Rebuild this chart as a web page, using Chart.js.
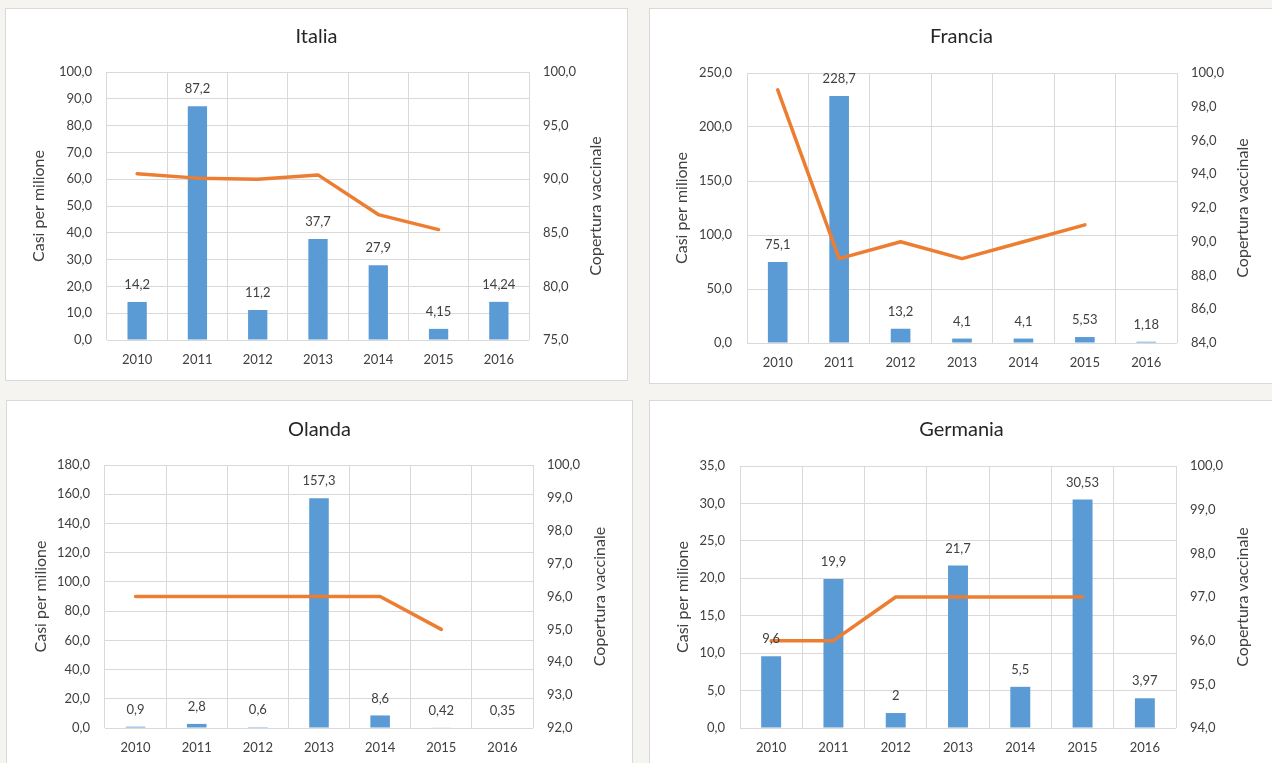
<!DOCTYPE html>
<html lang="it">
<head>
<meta charset="utf-8">
<title>Casi per milione e copertura vaccinale</title>
<script src="https://cdn.jsdelivr.net/npm/chart.js@4"></script>
<style>
  html, body { margin: 0; padding: 0; }
  body { width: 1272px; height: 763px; overflow: hidden; background: #f5f4f0; position: relative; font-family: Lato, sans-serif; }
  .pannello { position: absolute; background: #fff; border: 1px solid #d9d9d9; box-sizing: border-box; overflow: hidden; }
  .pannello canvas { display: block; }
</style>
</head>
<body>
<div class="pannello" id="p-italia"><canvas></canvas></div>
<div class="pannello" id="p-francia"><canvas></canvas></div>
<div class="pannello" id="p-olanda"><canvas></canvas></div>
<div class="pannello" id="p-germania"><canvas></canvas></div>
<script>
const anni = ['2010', '2011', '2012', '2013', '2014', '2015', '2016'];

const casiItalia = [14.2, 87.2, 11.2, 37.7, 27.9, 4.15, 14.24];
const coperturaItalia = [90.5, 90.1, 90.0, 90.4, 86.7, 85.3, null];
const scalaCasiItalia = [0, 100, 10];
const scalaCoperturaItalia = [75, 100, 5];

const casiFrancia = [75.1, 228.7, 13.2, 4.1, 4.1, 5.53, 1.18];
const coperturaFrancia = [99.0, 89.0, 90.0, 89.0, 90.0, 91.0, null];
const scalaCasiFrancia = [0, 250, 50];
const scalaCoperturaFrancia = [84, 100, 2];

const casiOlanda = [0.9, 2.8, 0.6, 157.3, 8.6, 0.42, 0.35];
const coperturaOlanda = [96.0, 96.0, 96.0, 96.0, 96.0, 95.0, null];
const scalaCasiOlanda = [0, 180, 20];
const scalaCoperturaOlanda = [92, 100, 1];

const casiGermania = [9.6, 19.9, 2, 21.7, 5.5, 30.53, 3.97];
const coperturaGermania = [96.0, 96.0, 97.0, 97.0, 97.0, 97.0, null];
const scalaCasiGermania = [0, 35, 5];
const scalaCoperturaGermania = [94, 100, 1];

const BLU = '#5b9bd5';
const ARANCIO = '#ed7d31';
const GRIGLIA = '#d9d9d9';
const TESTO = '#404040';
const FONT = 'Lato, sans-serif';

// box: [left, top, width, height] della cornice; area: [left, top, right, bottom] del grafico
const pannelli = [
  { id: 'p-italia', titolo: 'Italia', casi: casiItalia, copertura: coperturaItalia,
    scalaCasi: scalaCasiItalia, scalaCopertura: scalaCoperturaItalia,
    box: [5, 8, 623, 373], area: [107, 72, 529, 340], titoloY: 37, offTitoli: [68, 67] },
  { id: 'p-francia', titolo: 'Francia', casi: casiFrancia, copertura: coperturaFrancia,
    scalaCasi: scalaCasiFrancia, scalaCopertura: scalaCoperturaFrancia,
    box: [649, 8, 625, 376], area: [747, 73, 1177, 343], titoloY: 37, offTitoli: [65, 66] },
  { id: 'p-olanda', titolo: 'Olanda', casi: casiOlanda, copertura: coperturaOlanda,
    scalaCasi: scalaCasiOlanda, scalaCopertura: scalaCoperturaOlanda,
    box: [6, 400, 627, 390], area: [105, 465, 533, 728], titoloY: 430, offTitoli: [64, 67] },
  { id: 'p-germania', titolo: 'Germania', casi: casiGermania, copertura: coperturaGermania,
    scalaCasi: scalaCasiGermania, scalaCopertura: scalaCoperturaGermania,
    box: [649, 400, 625, 390], area: [740, 466, 1176, 728], titoloY: 430, offTitoli: [57, 67] },
];

const fmtAsse = v => v.toFixed(1).replace('.', ',');
const fmtEtichetta = v => String(v).replace('.', ',');

// titolo, titoli degli assi ed etichette sopra le barre
const decorazioni = {
  id: 'decorazioni',
  afterDatasetsDraw(chart, args, opts) {
    const ctx = chart.ctx;
    const a = chart.chartArea;
    ctx.save();
    ctx.fillStyle = TESTO;
    ctx.textAlign = 'center';
    ctx.textBaseline = 'middle';

    ctx.font = '13px ' + FONT;
    const meta = chart.getDatasetMeta(1);
    meta.data.forEach((bar, i) => {
      const v = chart.data.datasets[1].data[i];
      ctx.fillText(fmtEtichetta(v), bar.x, bar.y - 17);
    });

    ctx.fillStyle = '#262626';
    ctx.font = '20px ' + FONT;
    ctx.fillText(opts.titolo, chart.width / 2, opts.titoloY);

    ctx.fillStyle = TESTO;
    ctx.font = '16px ' + FONT;
    const midY = (a.top + a.bottom) / 2;
    [[a.left - opts.offTitoli[0], 'Casi per milione'], [a.right + opts.offTitoli[1], 'Copertura vaccinale']]
      .forEach(([x, testo]) => {
        ctx.save();
        ctx.translate(x, midY);
        ctx.rotate(-Math.PI / 2);
        ctx.fillText(testo, 0, 0);
        ctx.restore();
      });
    ctx.restore();
  }
};

pannelli.forEach(p => {
  const [bx, by, bw, bh] = p.box;
  const div = document.getElementById(p.id);
  Object.assign(div.style, { left: bx + 'px', top: by + 'px', width: bw + 'px', height: bh + 'px' });
  const W = bw - 2, H = bh - 2;
  const canvas = div.querySelector('canvas');
  canvas.width = W;
  canvas.height = H;
  canvas.style.width = W + 'px';
  canvas.style.height = H + 'px';

  const ox = bx + 1, oy = by + 1;
  const pl = p.area[0] - ox, pt = p.area[1] - oy, pr = p.area[2] - ox, pb = p.area[3] - oy;
  const tick = { color: TESTO, font: { family: FONT, size: 13 } };

  new Chart(canvas, {
    data: {
      labels: anni,
      datasets: [
        { type: 'line', label: 'Copertura vaccinale', data: p.copertura, yAxisID: 'yCop',
          borderColor: ARANCIO, borderWidth: 3.5, pointRadius: 0, tension: 0,
          borderJoinStyle: 'round', borderCapStyle: 'round', order: 0 },
        { type: 'bar', label: 'Casi per milione', data: p.casi, yAxisID: 'yCasi',
          backgroundColor: BLU, barPercentage: 0.32, categoryPercentage: 1, order: 1 },
      ]
    },
    options: {
      responsive: false,
      animation: false,
      layout: { padding: { top: pt, bottom: 0, left: 0, right: 0 } },
      plugins: {
        legend: { display: false },
        tooltip: { enabled: false },
        decorazioni: { titolo: p.titolo, titoloY: p.titoloY - oy, offTitoli: p.offTitoli },
      },
      scales: {
        x: {
          grid: { color: GRIGLIA, drawTicks: false, offset: true },
          border: { display: false },
          ticks: { ...tick, padding: 12 },
          afterFit(s) { s.height = H - pb; },
        },
        yCasi: {
          position: 'left',
          min: p.scalaCasi[0], max: p.scalaCasi[1],
          grid: { color: GRIGLIA, drawTicks: false },
          border: { display: false },
          ticks: { ...tick, stepSize: p.scalaCasi[2], padding: 15, callback: fmtAsse },
          afterFit(s) { s.width = pl; },
        },
        yCop: {
          position: 'right',
          min: p.scalaCopertura[0], max: p.scalaCopertura[1],
          grid: { display: false, drawTicks: false },
          border: { display: false },
          ticks: { ...tick, stepSize: p.scalaCopertura[2], padding: 14, callback: fmtAsse },
          afterFit(s) { s.width = W - pr; },
        },
      }
    },
    plugins: [decorazioni]
  });
});
</script>
</body>
</html>
